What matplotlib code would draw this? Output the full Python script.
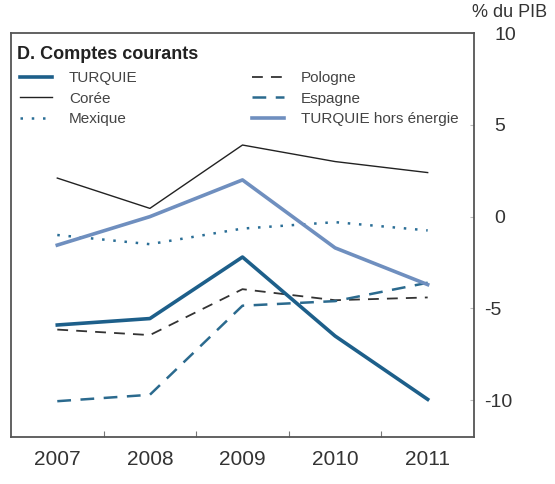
import matplotlib
matplotlib.use("Agg")
import matplotlib.pyplot as plt
from matplotlib.transforms import ScaledTranslation

plt.rcParams['font.family'] = ['Liberation Sans', 'DejaVu Sans']

# ── données ─────────────────────────────────────────
years = ["2007", "2008", "2009", "2010", "2011"]
turquie = [-5.9, -5.55, -2.2, -6.5, -9.95]
coree = [2.1, 0.45, 3.9, 3.0, 2.4]
mexique = [-1.0, -1.5, -0.65, -0.3, -0.75]
pologne = [-6.15, -6.45, -3.95, -4.55, -4.4]
espagne = [-10.05, -9.7, -4.85, -4.6, -3.6]
turquie_hors = [-1.55, 0.0, 2.0, -1.7, -3.7]
y_ticks = [-10, -5, 0, 5, 10]

fig = plt.figure(figsize=(5.55, 4.84), dpi=100, facecolor="white")
ax = fig.add_axes([0.0198, 0.0971, 0.8342, 0.8347])

x = range(len(years))
ax.plot(x, turquie, color="#1d5f8a", lw=2.6, label="TURQUIE", zorder=5)
ax.plot(x, coree, color="#222222", lw=1.0, label="Corée")
ax.plot(x, mexique, color="#2a6e96", lw=1.8, ls=(0, (1, 3.5)), label="Mexique")
ax.plot(x, pologne, color="#333333", lw=1.3, ls=(0, (6, 4.5)), label="Pologne")
ax.plot(x, espagne, color="#2b6a8e", lw=1.8, ls=(0, (5.5, 3.8)), label="Espagne")
ax.plot(x, turquie_hors, color="#6f8fbf", lw=2.6, label="TURQUIE hors énergie", zorder=4)

ax.set_xlim(-0.5, len(years) - 0.5)
ax.set_ylim(-12, 10)

# x : libellés centrés, traits aux frontières
ax.set_xticks([i + 0.5 for i in range(len(years) - 1)])
ax.set_xticklabels([])
ax.set_xticks(list(x), minor=True)
ax.set_xticklabels(years, minor=True, fontsize=15, color="#333333")
ax.tick_params(axis="x", which="major", direction="in", length=4, color="#777777")
ax.tick_params(axis="x", which="minor", length=0, pad=9)

# y à droite, chiffres alignés à gauche, signe moins en retrait
ax.yaxis.tick_right()
ax.set_yticks(y_ticks)
ax.set_yticklabels([str(v) for v in y_ticks], fontsize=14, color="#333333")
ax.tick_params(axis="y", direction="in", length=3, color="#bbbbbb", pad=14.5)
for v, lab in zip(y_ticks, ax.get_yticklabels()):
    lab.set_horizontalalignment("left")
    if v < 0:
        lab.set_transform(lab.get_transform() + ScaledTranslation(-7 / 72, 0, fig.dpi_scale_trans))

for sp in ax.spines.values():
    sp.set_color("#555555")
    sp.set_linewidth(1.3)

fig.text(0.919, 0.975, "% du PIB", fontsize=13, color="#333333", ha="center", va="center")

ax.text(0.012, 0.968, "D. Comptes courants", transform=ax.transAxes,
        fontsize=13, fontweight="bold", color="#222222", va="top", ha="left")

leg = ax.legend(loc="upper left", bbox_to_anchor=(0.0, 0.928), ncol=2, frameon=False,
                fontsize=11, handlelength=2.1, handletextpad=1.1, columnspacing=7.5,
                labelspacing=0.42, borderaxespad=0.2)
for t in leg.get_texts():
    t.set_color("#444444")

fig.savefig("out.png", dpi=100, facecolor="white")
